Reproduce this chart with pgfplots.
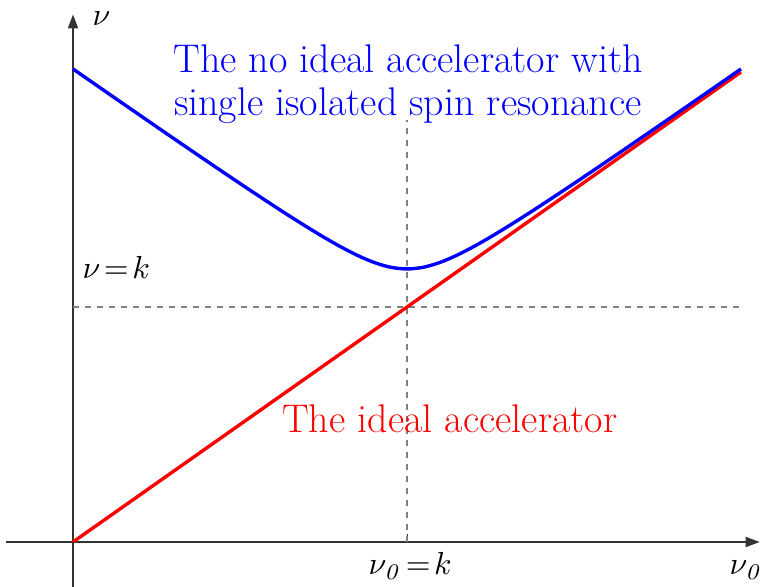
\documentclass[border=0pt]{standalone}
\usepackage{pgfplots}
\pgfplotsset{compat=1.18}
\usetikzlibrary{arrows.meta}

\newcommand{\bigtxt}{\fontsize{40bp}{43bp}\selectfont}
\tikzset{sym/.style={anchor=base west, inner sep=0pt, scale=3.2}}

\begin{document}
\begin{tikzpicture}
\begin{axis}[
  scale only axis,
  x=334bp, y=235bp,
  xmin=-0.2186, xmax=2.0599,
  ymin=-0.1915, ymax=2.3064,
  axis lines=none,
  clip=false,
]
\coordinate (ll) at (rel axis cs:0,0);
\coordinate (ur) at (rel axis cs:1,1);

% axes with arrow tips
\draw[black!80, line width=1.8bp, -{Triangle[length=14bp,width=10bp]}]
  (axis cs:-0.2,0) -- (axis cs:2.056,0);
\draw[black!80, line width=1.8bp, -{Triangle[length=14bp,width=10bp]}]
  (axis cs:0,-0.1915) -- (axis cs:0,2.245);
\draw[black!80, line width=1bp] (axis cs:1,0) -- (axis cs:1,0.035);

% guide lines through the resonance point
\draw[black!50, line width=1.2bp, dash pattern=on 6bp off 6bp]
  (axis cs:0,1) -- (axis cs:2,1);
\draw[black!50, line width=1.2bp, dash pattern=on 6bp off 6bp]
  (axis cs:1,0) -- (axis cs:1,1.796);

% ideal accelerator: nu = nu0
\addplot[red, line width=3.4bp] coordinates {(0,0) (2,2)};

% single isolated resonance: split spin tune
\addplot[blue, line width=3.4bp, smooth] coordinates {
  (0.00,2.0130) (0.10,1.9144) (0.20,1.8162) (0.30,1.7185) (0.40,1.6215)
  (0.50,1.5255) (0.60,1.4315) (0.65,1.3856) (0.70,1.3409) (0.75,1.2978)
  (0.80,1.2573) (0.85,1.2207) (0.90,1.1903) (0.95,1.1694) (1.00,1.1619)
  (1.05,1.1694) (1.10,1.1903) (1.15,1.2207) (1.20,1.2573) (1.25,1.2978)
  (1.30,1.3409) (1.35,1.3856) (1.40,1.4315) (1.50,1.5255) (1.60,1.6215)
  (1.70,1.7185) (1.80,1.8162) (1.90,1.9144) (2.00,2.0130)
};

% labels
\node[anchor=base, text=blue, inner sep=0pt] at (axis cs:1.003,1.996)
  {\bigtxt The no ideal accelerator with};
\node[anchor=base, text=blue, inner sep=0pt] at (axis cs:1.003,1.817)
  {\bigtxt single isolated spin resonance};
\node[anchor=base west, text=red, inner sep=0pt] at (axis cs:0.6257,0.468)
  {\bigtxt The ideal accelerator};

\node[sym] at (axis cs:0.057,2.200) {$\nu$};
\node[sym] at (axis cs:0.027,1.123) {$\nu\!=\!k$};
\node[sym] at (axis cs:0.883,-0.140) {$\nu_{\mathit{0}}\!=\!k$};
\node[sym] at (axis cs:1.964,-0.140) {$\nu_{\mathit{0}}$};
\end{axis}
\pgfresetboundingbox
\path (ll) rectangle (ur);
\end{tikzpicture}
\end{document}
